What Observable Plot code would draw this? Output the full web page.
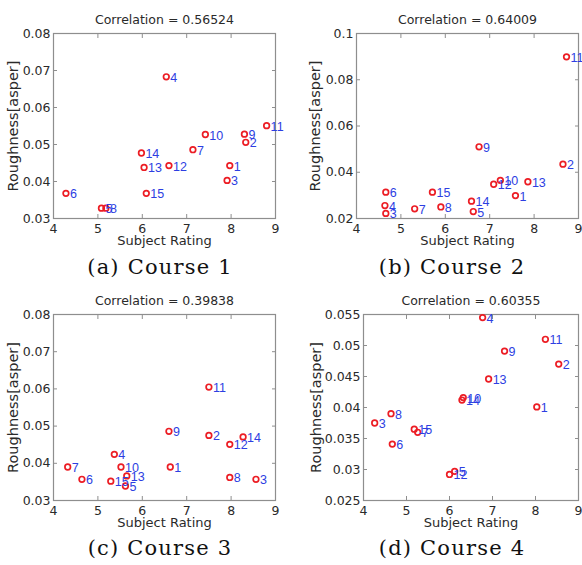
<!DOCTYPE html>
<html>
<head>
<meta charset="utf-8">
<script src="https://cdn.jsdelivr.net/npm/d3@7"></script>
<script src="https://cdn.jsdelivr.net/npm/@observablehq/plot@0.6"></script>
<style>
  html, body { margin: 0; padding: 0; background: #fff; }
  #fig { position: relative; width: 582px; height: 565px; overflow: hidden; background: #fff; }
  .panel { position: absolute; }
  .caption {
    position: absolute; width: 260px; text-align: center; white-space: nowrap;
    font-family: "DejaVu Serif", serif; font-size: 21px; letter-spacing: 1.2px;
    line-height: 1; color: #111;
  }
</style>
</head>
<body>
<div id="fig"></div>
<script>
// Subject numbers 1..15 label every point
const subjects = [1, 2, 3, 4, 5, 6, 7, 8, 9, 10, 11, 12, 13, 14, 15];

// Course 1
const course1Rating = [7.97, 8.33, 7.91, 6.54, 5.08, 4.28, 7.14, 5.18, 8.30, 7.42, 8.80, 6.60, 6.04, 5.98, 6.09];
const course1Rough  = [0.0443, 0.0506, 0.0403, 0.0683, 0.0328, 0.0368, 0.0486, 0.0328, 0.0528, 0.0527, 0.0551, 0.0443, 0.0438, 0.0477, 0.0368];

// Course 2
const course2Rating = [7.58, 8.65, 4.66, 4.64, 6.63, 4.66, 5.31, 5.90, 6.76, 7.24, 8.73, 7.09, 7.86, 6.59, 5.71];
const course2Rough  = [0.0299, 0.0435, 0.0222, 0.0256, 0.0230, 0.0314, 0.0242, 0.0250, 0.0510, 0.0365, 0.0899, 0.0348, 0.0359, 0.0275, 0.0314];

// Course 3
const course3Rating = [6.63, 7.50, 8.56, 5.37, 5.62, 4.64, 4.32, 7.97, 6.60, 5.52, 7.50, 7.97, 5.65, 8.27, 5.29];
const course3Rough  = [0.0390, 0.0475, 0.0357, 0.0424, 0.0339, 0.0357, 0.0390, 0.0362, 0.0486, 0.0390, 0.0605, 0.0451, 0.0366, 0.0471, 0.0352];

// Course 4
const course4Rating = [8.03, 8.54, 4.26, 6.77, 6.12, 4.67, 5.26, 4.64, 7.28, 6.32, 8.23, 6.00, 6.91, 6.29, 5.18];
const course4Rough  = [0.0401, 0.0470, 0.0375, 0.0545, 0.0297, 0.0341, 0.0360, 0.0390, 0.0491, 0.0416, 0.0510, 0.0292, 0.0446, 0.0412, 0.0365];

const titles   = ["Correlation = 0.56524", "Correlation = 0.64009", "Correlation = 0.39838", "Correlation = 0.60355"];
const captions = ["(a) Course 1", "(b) Course 2", "(c) Course 3", "(d) Course 4"];

const xLabel = "Subject Rating";
const yLabel = "Roughness[asper]";
const xTicks = [4, 5, 6, 7, 8, 9];
const yTicks1 = [0.03, 0.04, 0.05, 0.06, 0.07, 0.08];
const yTicks2 = [0.02, 0.04, 0.06, 0.08, 0.1];
const yTicks3 = [0.03, 0.04, 0.05, 0.06, 0.07, 0.08];
const yTicks4 = [0.025, 0.03, 0.035, 0.04, 0.045, 0.05, 0.055];

const frameColor = "#8e8e8e";
const textColor = "#2a2a2a";
const markerColor = "#ec1d24";
const labelColor = "#2d3ee2";
const fmt = d => String(+d.toFixed(4));

function scatter({rating, rough, yTicks, title, ml, mr, mb, yLabelDx}) {
  const pts = subjects.map((id, i) => ({id, x: rating[i], y: rough[i]}));
  const yDomain = [yTicks[0], yTicks[yTicks.length - 1]];
  const inward = {tickSize: 4, fill: "none", stroke: frameColor, strokeWidth: 1};
  return Plot.plot({
    width: 291, height: 255,
    marginLeft: ml, marginRight: mr, marginTop: 33, marginBottom: mb,
    style: {fontFamily: "DejaVu Sans, sans-serif", fontSize: "12px", background: "white"},
    x: {domain: [4, 9]},
    y: {domain: yDomain},
    marks: [
      Plot.frame({stroke: frameColor, strokeWidth: 1.2}),
      // inward-pointing ticks on all four sides of the box
      Plot.axisX(xTicks, {...inward, anchor: "bottom", dy: -4}),
      Plot.axisX(xTicks, {...inward, anchor: "top", dy: 4}),
      Plot.axisY(yTicks, {...inward, anchor: "left", dx: 4}),
      Plot.axisY(yTicks, {...inward, anchor: "right", dx: -4}),
      // tick labels
      Plot.axisX(xTicks, {anchor: "bottom", tickSize: 0, tickPadding: 6, fill: textColor, label: null, fontSize: 12.5}),
      Plot.axisY(yTicks, {anchor: "left", tickSize: 0, tickPadding: 3, tickFormat: fmt, fill: textColor, label: null, fontSize: 12.5}),
      // axis titles and panel title
      Plot.text([xLabel], {text: d => d, frameAnchor: "bottom", dy: 26, textAnchor: "middle", fill: textColor, fontSize: 13}),
      Plot.text([yLabel], {text: d => d, frameAnchor: "left", dx: yLabelDx, rotate: -90, textAnchor: "middle", fill: textColor, fontSize: 14.5}),
      Plot.text([title], {text: d => d, frameAnchor: "top", dy: -10, lineAnchor: "bottom", textAnchor: "middle", fill: textColor, fontSize: 12.5}),
      // subjects
      Plot.dot(pts, {x: "x", y: "y", r: 2.8, stroke: markerColor, strokeWidth: 1.7}),
      Plot.text(pts, {x: "x", y: "y", text: "id", dx: 4, dy: 1, textAnchor: "start", fill: labelColor,
                      fontSize: 12.5, fontFamily: "Liberation Sans, Arial, sans-serif"})
    ]
  });
}

const panels = [
  {rating: course1Rating, rough: course1Rough, yTicks: yTicks1, ml: 53, mr: 16, mb: 37, yLabelDx: -40, left: 0,   top: 0,   cx: 160},
  {rating: course2Rating, rough: course2Rough, yTicks: yTicks2, ml: 65, mr: 4,  mb: 37, yLabelDx: -41, left: 291, top: 0,   cx: 452},
  {rating: course3Rating, rough: course3Rough, yTicks: yTicks3, ml: 53, mr: 16, mb: 36, yLabelDx: -40, left: 0,   top: 281, cx: 160},
  {rating: course4Rating, rough: course4Rough, yTicks: yTicks4, ml: 72, mr: 4,  mb: 36, yLabelDx: -47, left: 291, top: 281, cx: 452}
];

const fig = document.getElementById("fig");
panels.forEach((p, i) => {
  const holder = document.createElement("div");
  holder.className = "panel";
  holder.style.left = p.left + "px";
  holder.style.top = p.top + "px";
  holder.appendChild(scatter({...p, title: titles[i]}));
  fig.appendChild(holder);

  const cap = document.createElement("div");
  cap.className = "caption";
  cap.textContent = captions[i];
  cap.style.left = (p.cx - 130) + "px";
  cap.style.top = (p.top + 257) + "px";
  fig.appendChild(cap);
});
</script>
</body>
</html>
